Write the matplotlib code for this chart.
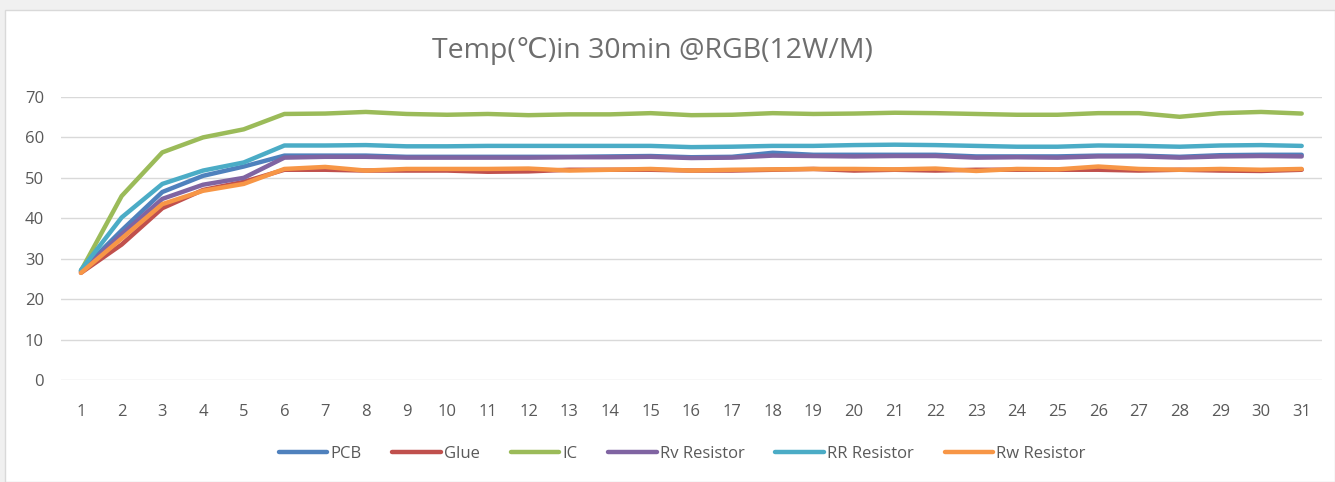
import numpy as np
import matplotlib.pyplot as plt
from matplotlib.patches import Rectangle

# minutes 1..31
minutes = list(range(1, 32))

pcb = [27.0, 37.0, 46.5, 50.5, 52.8, 55.5, 55.5, 55.5, 55.2, 55.2, 55.2, 55.2, 55.2, 55.3, 55.4, 55.1,
       55.2, 56.2, 55.7, 55.7, 55.7, 55.7, 55.3, 55.3, 55.3, 55.5, 55.5, 55.2, 55.6, 55.7, 55.7]
glue = [26.5, 33.5, 42.5, 47.0, 49.0, 52.0, 52.0, 51.8, 51.8, 51.8, 51.5, 51.6, 52.0, 52.0, 52.0, 51.8,
        51.8, 52.0, 52.2, 51.8, 52.0, 51.8, 52.0, 52.0, 52.0, 52.0, 51.8, 52.0, 51.8, 51.7, 52.0]
ic = [27.0, 45.5, 56.3, 60.0, 62.0, 65.8, 65.9, 66.3, 65.8, 65.6, 65.8, 65.5, 65.7, 65.7, 66.0, 65.5,
      65.6, 66.0, 65.8, 65.9, 66.1, 66.0, 65.8, 65.6, 65.6, 66.0, 66.0, 65.1, 66.0, 66.3, 65.9]
rv_res = [26.8, 36.0, 44.8, 48.3, 50.0, 55.0, 55.2, 55.2, 55.0, 55.0, 55.0, 55.0, 55.1, 55.1, 55.2, 54.9,
          55.0, 55.5, 55.4, 55.3, 55.4, 55.4, 55.0, 55.1, 55.0, 55.3, 55.3, 55.0, 55.3, 55.4, 55.3]
rr_res = [27.2, 40.2, 48.5, 51.8, 53.8, 58.0, 58.0, 58.1, 57.8, 57.8, 57.9, 57.9, 57.9, 57.9, 57.9, 57.6,
          57.7, 57.9, 57.9, 58.1, 58.2, 58.1, 57.9, 57.7, 57.7, 58.0, 57.9, 57.7, 58.0, 58.1, 57.9]
rw_res = [26.5, 35.0, 43.5, 46.8, 48.5, 52.2, 52.7, 51.8, 52.2, 52.2, 52.2, 52.3, 51.8, 52.0, 52.2, 51.8,
          52.0, 52.1, 52.2, 52.2, 52.1, 52.3, 51.7, 52.2, 52.1, 52.8, 52.2, 52.0, 52.2, 52.0, 52.2]

series = [
    ('PCB', pcb, '#4f81bd'),
    ('Glue', glue, '#c0504d'),
    ('IC', ic, '#9bbb59'),
    ('Rv Resistor', rv_res, '#8064a2'),
    ('RR Resistor', rr_res, '#4bacc6'),
    ('Rw Resistor', rw_res, '#f79646'),
]

plt.rcParams['font.family'] = ['Open Sans', 'DejaVu Sans']
text_color = '#595959'

fig = plt.figure(figsize=(13.35, 4.82), dpi=100)
fig.patch.set_facecolor('#f0f0f0')
# white chart area with thin frame
fig.patches.append(Rectangle((5 / 1335, 0), 1 - 5 / 1335, 1 - 10 / 482, transform=fig.transFigure,
                             facecolor='white', edgecolor='#d9d9d9', lw=1.0, zorder=-5))

ax = fig.add_axes([0.0454, 0.2116, 0.9449, 0.5872])
ax.set_facecolor('none')

for name, vals, col in series:
    ax.plot(minutes, vals, color=col, lw=3.2, label=name, solid_capstyle='round', solid_joinstyle='round')

ax.set_xlim(0.5, 31.5)
ax.set_ylim(0, 70)
ax.set_yticks(range(0, 71, 10))
ax.set_xticks(minutes)
ax.grid(axis='y', color='#d9d9d9', lw=1.0)
ax.set_axisbelow(True)
for s in ax.spines.values():
    s.set_visible(False)
ax.tick_params(axis='both', length=0, colors=text_color, labelsize=12)
ax.tick_params(axis='x', pad=17)
ax.tick_params(axis='y', pad=12)

fig.text(0.489, 0.895, 'Temp(\u2103)in 30min @RGB(12W/M)', ha='center', va='center',
         fontsize=20.5, color='#6e6e6e')

leg = fig.legend(loc='center', bbox_to_anchor=(0.511, 0.058), ncol=6, frameon=False,
                 fontsize=12, handlelength=2.9, handletextpad=0.2, columnspacing=1.85)
for t in leg.get_texts():
    t.set_color(text_color)

fig.savefig('out.png', dpi=100, facecolor=fig.get_facecolor())
